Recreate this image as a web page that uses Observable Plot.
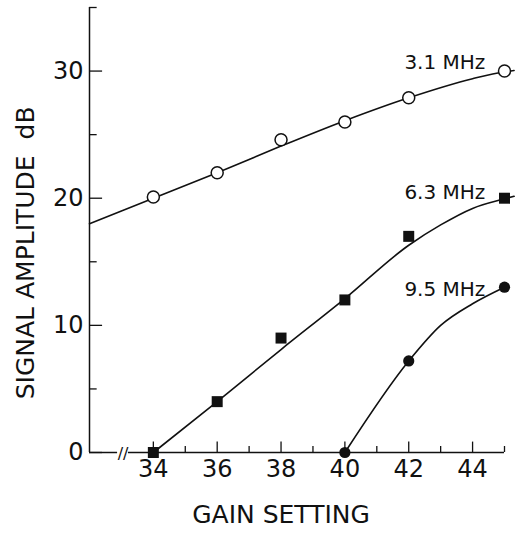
<!DOCTYPE html>
<html>
<head>
<meta charset="utf-8">
<script src="https://cdn.jsdelivr.net/npm/d3@7"></script>
<script src="https://cdn.jsdelivr.net/npm/@observablehq/plot@0.6"></script>
<style>
  html, body { margin: 0; padding: 0; background: #fff; }
  #chart svg { display: block; }
</style>
</head>
<body>
<div id="chart"></div>
<script>
// Tick values
const xMajor = [34, 36, 38, 40, 42, 44];
const xMinor = [35, 37, 39, 41, 43, 45];
const yMajor = [0, 10, 20, 30];
const yMinor = [5, 15, 25, 35];
const xBreak = 33;

// Measured points
const gain31 = [34, 36, 38, 40, 42, 45];
const amp31  = [20.1, 22.0, 24.6, 26.0, 27.9, 30.0];
const gain63 = [34, 36, 38, 40, 42, 45];
const amp63  = [0, 4.0, 9.0, 12.0, 17.0, 20.0];
const gain95 = [40, 42, 45];
const amp95  = [0, 7.2, 13.0];

// Hand-drawn fitted curves
const curve31x = [32, 34, 36, 38, 40, 42, 44, 45, 45.3];
const curve31y = [18.0, 20.0, 22.0, 24.1, 26.1, 27.9, 29.4, 29.95, 30.05];
const curve63x = [34, 36, 38, 40, 42, 43, 44, 45, 45.3];
const curve63y = [0, 4.0, 8.1, 12.1, 16.3, 17.9, 19.2, 19.95, 20.15];
const curve95x = [40, 42, 43, 44, 45];
const curve95y = [0, 7.2, 10.0, 11.7, 13.0];

// Series labels
const seriesLabels = ["3.1 MHz", "6.3 MHz", "9.5 MHz"];
const labelX = [44.4, 44.4, 44.4];
const labelY = [30.2, 19.9, 12.3];

const xTitle = "GAIN SETTING";
const yTitle = "SIGNAL AMPLITUDE  dB";

const zip = (xs, ys) => xs.map((x, i) => ({x, y: ys[i]}));
const font = "DejaVu Sans";

const chart = Plot.plot({
  width: 515,
  height: 533,
  marginLeft: 89,
  marginRight: 11,
  marginTop: 7,
  marginBottom: 81,
  style: {fontFamily: font, color: "#111", background: "#fff"},
  x: {domain: [32, 45]},
  y: {domain: [0, 35]},
  marks: [
    // axes lines
    Plot.ruleX([32], {y1: 0, y2: 35, stroke: "#111", strokeWidth: 1.5}),
    Plot.ruleY([0], {x1: 32, x2: xBreak - 0.12, stroke: "#111", strokeWidth: 1.5}),
    Plot.ruleY([0], {x1: xBreak + 0.22, x2: 45, stroke: "#111", strokeWidth: 1.5}),
    Plot.text(["//"], {x: xBreak + 0.05, y: 0, text: d => d, fontSize: 16, fill: "#111", dy: 1}),
    // ticks (inward)
    Plot.ruleX(xMajor, {x: d => d, y1: 0, y2: 0.82, stroke: "#111", strokeWidth: 1.3}),
    Plot.ruleX(xMinor, {x: d => d, y1: 0, y2: 0.47, stroke: "#111", strokeWidth: 1.3}),
    Plot.ruleY(yMajor, {y: d => d, x1: 32, x2: 32.41, stroke: "#111", strokeWidth: 1.3}),
    Plot.ruleY(yMinor, {y: d => d, x1: 32, x2: 32.24, stroke: "#111", strokeWidth: 1.3}),
    // tick labels
    Plot.axisX({ticks: xMajor, tickSize: 0, tickPadding: 7, fontSize: 24, label: null}),
    Plot.axisY({ticks: yMajor, tickSize: 0, tickPadding: 6, fontSize: 24, label: null}),
    // axis titles
    Plot.text([xTitle], {x: 38, frameAnchor: "bottom", lineAnchor: "middle", textAnchor: "middle", dy: 62, text: d => d, fontSize: 25, fill: "#111"}),
    Plot.text([yTitle], {y: 15.7, frameAnchor: "left", lineAnchor: "middle", textAnchor: "middle", dx: -64, rotate: -90, text: d => d, fontSize: 25, fill: "#111"}),
    // curves
    Plot.line(zip(curve31x, curve31y), {x: "x", y: "y", curve: "monotone-x", stroke: "#111", strokeWidth: 1.6}),
    Plot.line(zip(curve63x, curve63y), {x: "x", y: "y", curve: "monotone-x", stroke: "#111", strokeWidth: 1.6}),
    Plot.line(zip(curve95x, curve95y), {x: "x", y: "y", curve: "monotone-x", stroke: "#111", strokeWidth: 1.6}),
    // points
    Plot.dot(zip(gain31, amp31), {x: "x", y: "y", r: 6, fill: "#fff", stroke: "#111", strokeWidth: 1.5}),
    Plot.dot(zip(gain63, amp63), {x: "x", y: "y", r: 6.2, symbol: "square", fill: "#111", stroke: "none"}),
    Plot.dot(zip(gain95, amp95), {x: "x", y: "y", r: 5.6, fill: "#111", stroke: "none"}),
    // series labels
    Plot.text(seriesLabels.map((t, i) => ({t, x: labelX[i], y: labelY[i]})),
      {x: "x", y: "y", text: "t", textAnchor: "end", lineAnchor: "bottom", fontSize: 20, fill: "#111"})
  ]
});

document.getElementById("chart").appendChild(chart);
</script>
</body>
</html>
